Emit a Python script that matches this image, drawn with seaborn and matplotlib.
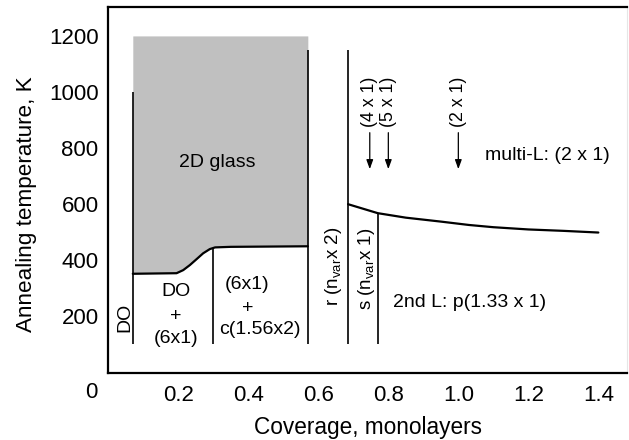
import matplotlib
matplotlib.use("Agg")
import matplotlib.pyplot as plt
import seaborn as sns
import pandas as pd
from matplotlib.ticker import MultipleLocator

# ---- data ----
glass_x = [0.07, 0.195, 0.214, 0.233, 0.253, 0.271, 0.29, 0.305, 0.35, 0.57]
glass_lower = [352, 354, 365, 383, 405, 425, 440, 446, 448, 450]
glass_top = 1200

curve_x = [0.685, 0.77, 0.85, 0.95, 1.03, 1.1, 1.2, 1.3, 1.4]
curve_y = [600, 568, 552, 538, 526, 518, 510, 505, 499]

phase_x = [0.07, 0.30, 0.57, 0.685, 0.77]
phase_ymin = [100, 100, 100, 100, 100]
phase_ymax = [1000, 444, 1150, 1150, 568]

arrow_x = [0.747, 0.80, 1.00]
arrow_labels = ["(4 x 1)", "(5 x 1)", "(2 x 1)"]
arrow_y_start = 855
arrow_y_end = 725

x_ticks = [0.2, 0.4, 0.6, 0.8, 1.0, 1.2, 1.4]
x_tick_labels = ["0.2", "0.4", "0.6", "0.8", "1.0", "1.2", "1.4"]
y_ticks = [200, 400, 600, 800, 1000, 1200]
y_tick_labels = ["200", "400", "600", "800", "1000", "1200"]

# ---- style ----
sns.set_style("white")
plt.rcParams["font.family"] = ["Liberation Sans", "DejaVu Sans"]
plt.rcParams["text.color"] = "black"
plt.rcParams["axes.labelcolor"] = "black"
plt.rcParams["mathtext.fontset"] = "custom"
plt.rcParams["mathtext.rm"] = "Liberation Sans"
plt.rcParams["mathtext.it"] = "Liberation Sans"

fig = plt.figure(figsize=(6.29, 4.40), dpi=100)
ax = fig.add_axes([108.3 / 629, 1 - 372.5 / 440, (626.7 - 108.3) / 629, (372.5 - 7.3) / 440])

# gray 2D glass region
ax.fill_between(glass_x, glass_lower, glass_top, color="#c0c0c0", linewidth=0, zorder=1)
glass_df = pd.DataFrame({"x": glass_x, "y": glass_lower})
sns.lineplot(data=glass_df, x="x", y="y", ax=ax, color="black", linewidth=1.6,
             sort=False, estimator=None, zorder=3)

# multilayer transition curve
curve_df = pd.DataFrame({"x": curve_x, "y": curve_y})
sns.lineplot(data=curve_df, x="x", y="y", ax=ax, color="black", linewidth=1.6,
             sort=False, estimator=None, zorder=3)

# phase boundaries
ax.vlines(phase_x, phase_ymin, phase_ymax, colors="black", linewidth=1.2, zorder=3)

# arrows and their labels
for xa, lab in zip(arrow_x, arrow_labels):
    ax.annotate("", xy=(xa, arrow_y_end), xytext=(xa, arrow_y_start),
                arrowprops=dict(arrowstyle="-|>,head_length=0.55,head_width=0.2",
                                color="black", lw=0.9, shrinkA=0, shrinkB=0))
    ax.text(xa, arrow_y_start + 22, lab, rotation=90, ha="center", va="bottom",
            fontsize=12.8)

# region labels
fs = 14
ax.text(0.31, 750, "2D glass", ha="center", va="center", fontsize=fs)
ax.text(0.048, 198, "DO", rotation=90, ha="center", va="center", fontsize=fs)
ax.text(0.194, 288, "DO", ha="center", va="center", fontsize=fs)
ax.text(0.194, 199, "+", ha="center", va="center", fontsize=fs)
ax.text(0.194, 122, "(6x1)", ha="center", va="center", fontsize=fs)
ax.text(0.397, 312, "(6x1)", ha="center", va="center", fontsize=fs)
ax.text(0.397, 229, "+", ha="center", va="center", fontsize=fs)
ax.text(0.433, 152, "c(1.56x2)", ha="center", va="center", fontsize=fs)
ax.text(0.643, 378, r"r (n$_{\rm var}$x 2)", rotation=90, ha="center", va="center",
        fontsize=13.5)
ax.text(0.738, 368, r"s (n$_{\rm var}$x 1)", rotation=90, ha="center", va="center",
        fontsize=13.5)
ax.text(0.812, 248, "2nd L: p(1.33 x 1)", ha="left", va="center", fontsize=fs)
ax.text(1.077, 775, "multi-L: (2 x 1)", ha="left", va="center", fontsize=fs)

# axes
ax.set_xlim(0, 1.481)
ax.set_ylim(0, 1302)
ax.set_xticks(x_ticks)
ax.set_xticklabels(x_tick_labels)
ax.set_yticks(y_ticks)
ax.set_yticklabels(y_tick_labels)
ax.xaxis.set_minor_locator(MultipleLocator(0.1))
ax.yaxis.set_minor_locator(MultipleLocator(100))
ax.tick_params(axis="both", which="major", direction="in", length=8, width=1.2,
               labelsize=16, colors="black")
ax.tick_params(axis="both", which="minor", direction="in", length=4.5, width=1.2)
ax.tick_params(axis="x", which="major", pad=9)
ax.tick_params(axis="y", which="major", pad=7)
ax.tick_params(axis="both", which="both", top=False, right=False)

for side in ["left", "bottom", "top"]:
    ax.spines[side].set_color("black")
    ax.spines[side].set_linewidth(1.6)
ax.spines["right"].set_color("#e6e6e6")
ax.spines["right"].set_linewidth(0.8)

# origin label
ax.text(-0.032, -0.055, "0", transform=ax.transAxes, ha="center", va="center",
        fontsize=16)

ax.set_xlabel("Coverage, monolayers", fontsize=16.3, labelpad=7)
ax.set_ylabel("Annealing temperature, K", fontsize=16.2, labelpad=8.5, y=0.46)

fig.savefig("out.png", dpi=100)
